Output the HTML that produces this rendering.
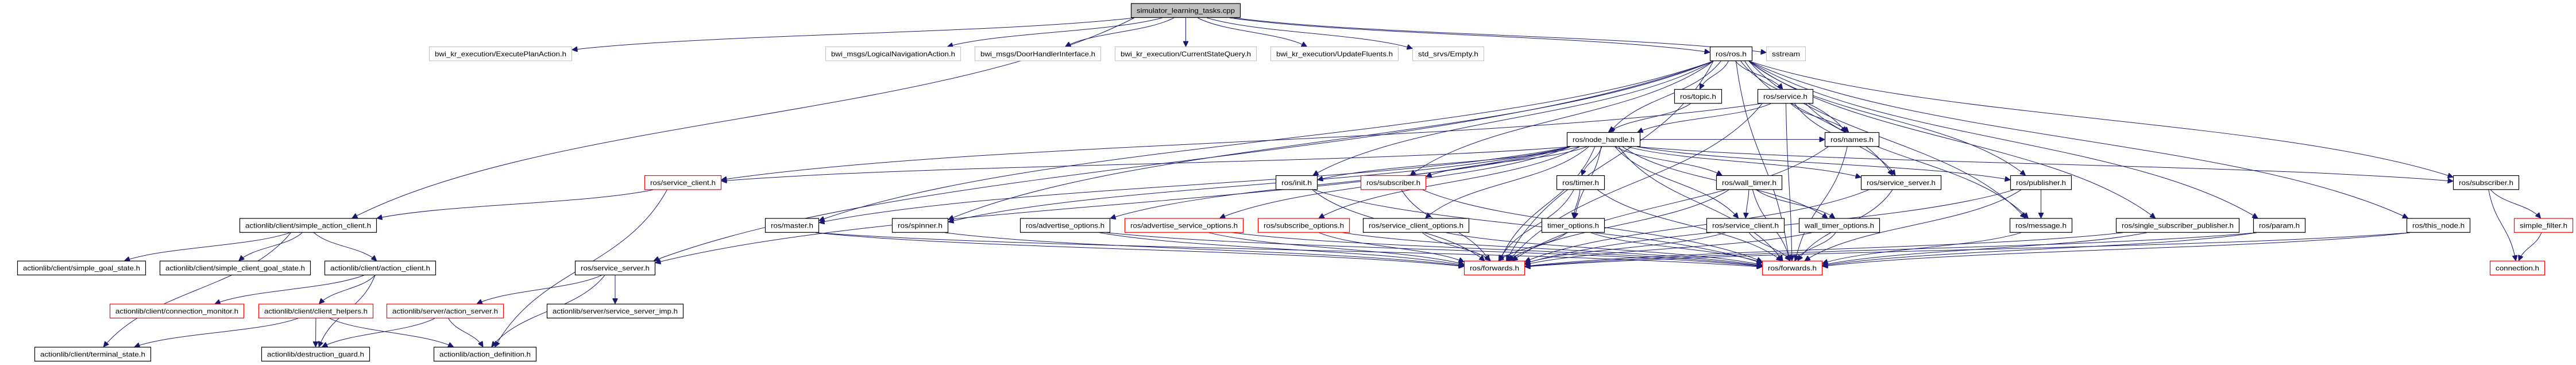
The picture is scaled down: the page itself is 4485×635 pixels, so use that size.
<!DOCTYPE html>
<html><head><meta charset="utf-8">
<style>
html,body{margin:0;padding:0;background:#fff;width:4485px;height:635px;overflow:hidden}
svg{display:block}
text{font-family:"Liberation Sans",sans-serif;font-size:12px;fill:#000}
</style></head>
<body>
<svg id="g" xmlns="http://www.w3.org/2000/svg" width="4485" height="635" viewBox="0 0 4485 635">
<defs><marker id="a" viewBox="0 0 10 10" refX="10" refY="5" markerWidth="11" markerHeight="9" markerUnits="userSpaceOnUse" orient="auto"><path d="M0,0 L10,5 L0,10 z" fill="#191970" stroke="#191970"/></marker></defs>
<g id="E" fill="none" stroke="#191970" stroke-width="1"></g>
<g id="N"></g>
</svg>
<script>
var R=[5.7,81,155,230,305,379.5,453.6,528.5,603.5],H=25.3;
var N={
cpp:["simulator_learning_tasks.cpp",1969,2160,0,"t"],
epa:["bwi_kr_execution/ExecutePlanAction.h",747,996,1,"g"],
lna:["bwi_msgs/LogicalNavigationAction.h",1437,1673,1,"g"],
dhi:["bwi_msgs/DoorHandlerInterface.h",1697,1917,1,"g"],
csq:["bwi_kr_execution/CurrentStateQuery.h",1941,2188,1,"g"],
uf:["bwi_kr_execution/UpdateFluents.h",2212,2435,1,"g"],
emp:["std_srvs/Empty.h",2459,2584,1,"g"],
ros:["ros/ros.h",2977,3051,1,"b"],
ss:["sstream",3075,3144,1,"g"],
topic:["ros/topic.h",2915,2998,2,"b"],
svc:["ros/service.h",3060,3157,2,"b"],
nh:["ros/node_handle.h",2728,2856,3,"b"],
names:["ros/names.h",3177,3272,3,"b"],
scr:["ros/service_client.h",1122,1256,4,"r"],
init:["ros/init.h",2221,2294,4,"b"],
subr:["ros/subscriber.h",2369,2483,4,"r"],
timer:["ros/timer.h",2710,2794,4,"b"],
wt:["ros/wall_timer.h",2988,3103,4,"b"],
ssv4:["ros/service_server.h",3240,3380,4,"b"],
pub:["ros/publisher.h",3500,3607,4,"b"],
subb:["ros/subscriber.h",4271,4386,4,"b"],
sac:["actionlib/client/simple_action_client.h",417,656,5,"b"],
master:["ros/master.h",1332,1426,5,"b"],
spin:["ros/spinner.h",1553,1651,5,"b"],
ao:["ros/advertise_options.h",1776,1933,5,"b"],
aso:["ros/advertise_service_options.h",1958,2165,5,"r"],
so:["ros/subscribe_options.h",2190,2350,5,"r"],
sco:["ros/service_client_options.h",2373,2558,5,"b"],
to:["timer_options.h",2684,2794,5,"b"],
sc5:["ros/service_client.h",2971,3107,5,"b"],
wto:["wall_timer_options.h",3132,3273,5,"b"],
msg:["ros/message.h",3499,3608,5,"b"],
ssp:["ros/single_subscriber_publisher.h",3684,3899,5,"b"],
param:["ros/param.h",3923,4014,5,"b"],
tn:["ros/this_node.h",4190,4301,5,"b"],
sf:["simple_filter.h",4377,4480,5,"r"],
sgs:["actionlib/client/simple_goal_state.h",30,254,6,"b"],
scgs:["actionlib/client/simple_client_goal_state.h",278,541,6,"b"],
ac:["actionlib/client/action_client.h",565,759,6,"b"],
ssv6:["ros/service_server.h",1001,1141,6,"b"],
fwl:["ros/forwards.h",2549,2655,6,"r"],
fwr:["ros/forwards.h",3068,3173,6,"r"],
conn:["connection.h",4335,4431,6,"r"],
cm:["actionlib/client/connection_monitor.h",191,425,7,"r"],
ch:["actionlib/client/client_helpers.h",450,650,7,"r"],
as:["actionlib/server/action_server.h",673,877,7,"r"],
ssi:["actionlib/server/service_server_imp.h",952,1190,7,"b"],
ts:["actionlib/client/terminal_state.h",60,263,8,"b"],
dg:["actionlib/destruction_guard.h",455,644,8,"b"],
ad:["actionlib/action_definition.h",755,934,8,"b"]
};
var E="cpp epa,cpp lna,cpp dhi,cpp csq,cpp uf,cpp emp,cpp ros,cpp ss,cpp sac,"+
"ros topic,ros svc,ros nh,ros names,ros ssv4,ros pub,ros msg,ros ssp,ros param,ros tn,ros subb,ros init,ros subr,ros ssv6,ros master,ros spin,ros fwr,ros fwl,"+
"topic nh,svc nh,svc names,svc ssv4,svc fwr,svc fwl,svc scr,svc msg,"+
"nh scr,nh init,nh subr,nh timer,nh to,nh wt,nh wto,nh sco,nh ao,nh aso,nh so,nh spin,nh master,nh ssv4,nh pub,nh sc5,nh fwl,nh fwr,nh names,nh subb,nh ssv6,"+
"names fwl,names fwr,init fwl,init fwr,subr fwl,subr fwr,timer to,timer fwl,timer fwr,wt wto,wt sc5,wt fwr,wt fwl,ssv4 fwl,ssv4 fwr,pub msg,pub fwr,pub fwl,subb sf,subb conn,sf conn,"+
"master fwl,master fwr,spin fwl,ao fwl,ao fwr,aso fwl,aso fwr,so fwl,so fwr,sco fwl,sco fwr,to fwl,to fwr,sc5 fwl,sc5 fwr,wto fwr,wto fwl,msg fwr,ssp fwr,ssp fwl,param fwr,param fwl,tn fwr,tn fwl,"+
"sac sgs,sac scgs,sac ac,sac ts,ac cm,ac ch,ac dg,ch ts,ch dg,ch ad,as dg,as ad,ssv6 as,ssv6 ssi,ssv6 ad,scr sac,scr ad";
var NS="http://www.w3.org/2000/svg",gE=document.getElementById("E"),gN=document.getElementById("N");
function box(k){var n=N[k];return {x1:n[1],x2:n[2],y1:R[n[3]],y2:R[n[3]]+H,cx:(n[1]+n[2])/2,cy:R[n[3]]+H/2};}
function clip(b,dx,dy){var hw=(b.x2-b.x1)/2,hh=H/2,t=1e9;if(dx)t=Math.min(t,hw/Math.abs(dx));if(dy)t=Math.min(t,hh/Math.abs(dy));return [b.cx+dx*t,b.cy+dy*t];}
E.split(",").forEach(function(e){var p=e.split(" "),a=box(p[0]),b=box(p[1]);
 var sx=a.cx,sy=a.cy,tx=b.cx,ty=b.cy;
 if(N[p[1]][3]>N[p[0]][3]){var span=a.x2-a.x1;sx=Math.max(a.x1+6,Math.min(a.x2-6,a.cx+(b.cx-a.cx)*0.08));sy=a.y2;
  var tspan=b.x2-b.x1;tx=Math.max(b.x1+8,Math.min(b.x2-8,b.cx+(a.cx-b.cx)*0.05));ty=b.y1;
  if(Math.abs(tx-sx)>(ty-sy)*4){var q=clip(b,sx-b.cx,sy-b.cy);tx=q[0];ty=q[1];}
 }else{var q1=clip(a,b.cx-a.cx,b.cy-a.cy),q2=clip(b,a.cx-b.cx,a.cy-b.cy);sx=q1[0];sy=q1[1];tx=q2[0];ty=q2[1];}
 var my=(sy+ty)/2,path=document.createElementNS(NS,"path");
 path.setAttribute("d","M"+sx+","+sy+" C"+(sx+(tx-sx)*0.25)+","+(my)+" "+(sx+(tx-sx)*0.75)+","+my+" "+tx+","+ty);
 path.setAttribute("marker-end","url(#a)");gE.appendChild(path);});
for(var k in N){var n=N[k],b=box(k),r=document.createElementNS(NS,"rect");
 r.setAttribute("x",b.x1+0.5);r.setAttribute("y",b.y1+0.5);r.setAttribute("width",b.x2-b.x1-1);r.setAttribute("height",H-1);
 r.setAttribute("fill",n[4]=="t"?"#bfbfbf":"#fff");r.setAttribute("stroke",n[4]=="r"?"#ff0000":n[4]=="g"?"#bfbfbf":"#000");r.setAttribute("stroke-width",n[4]=="g"?1:1.2);
 gN.appendChild(r);var t=document.createElementNS(NS,"text");t.setAttribute("x",b.x1+10);t.setAttribute("y",b.y1+17);
 t.setAttribute("textLength",b.x2-b.x1-20);t.setAttribute("lengthAdjust","spacingAndGlyphs");t.textContent=n[0];gN.appendChild(t);}
</script>
</body></html>
